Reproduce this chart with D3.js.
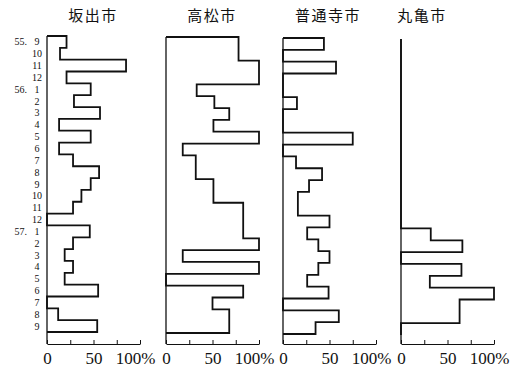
<!DOCTYPE html>
<html>
<head>
<meta charset="utf-8">
<script src="https://cdn.jsdelivr.net/npm/d3@7"></script>
<style>
  html, body { margin: 0; padding: 0; background: #fff; }
  svg { display: block; }
</style>
</head>
<body>
<svg id="chart" width="518" height="368"></svg>
<script>
// ---- data ----
const months = ["55.9","55.10","55.11","55.12",
  "56.1","56.2","56.3","56.4","56.5","56.6","56.7","56.8","56.9","56.10","56.11","56.12",
  "57.1","57.2","57.3","57.4","57.5","57.6","57.7","57.8","57.9"];
const monthLabels = ["9","10","11","12","1","2","3","4","5","6","7","8","9","10","11","12","1","2","3","4","5","6","7","8","9"];
const yearLabels = {"55.9":"55.", "56.1":"56.", "57.1":"57."};
const cities = ["坂出市","高松市","普通寺市","丸亀市"];
const sakaide   = [21,14,85,21,47,29,57,13,47,13,28,56,47,37,28,0,46,28,19,28,19,55,0,12,54];
const takamatsu = [78,78,100,100,33,52,68,51,100,18,32,32,51,51,83,83,83,100,18,100,0,83,50,68,68];
const zentsuji  = [44,0,57,0,0,15,0,0,75,0,14,42,28,16,16,50,26,38,50,38,26,49,0,60,35];
const marugame  = [0,0,0,0,0,0,0,0,0,0,0,0,0,0,0,0,32,66,0,65,31,100,63,63,0];
const series = [sakaide, takamatsu, zentsuji, marugame];
const tickValues = [0,25,50,75,100];
const tickLabels = {0:"0", 50:"50", 100:"100%"};

// ---- layout ----
const panelLeft = [47, 166, 283, 401];
const panelWidth = 93;
const panelDy = [0, 1, 2, 3];
const titleX = [93, 212, 328, 422];
const axisY = 344;
const top0 = 36, bottom0 = 332;
const ink = "#111";

const svg = d3.select("#chart");

// left month labels (use panel 1 band scale)
const yMain = d3.scaleBand().domain(months).range([top0, bottom0]).padding(0);
const lab = svg.append("g")
  .attr("font-family", "'Liberation Serif','DejaVu Serif',serif")
  .attr("font-size", 10).attr("fill", ink);
lab.selectAll("text.m").data(months).join("text")
  .attr("class","m")
  .attr("x", 37)
  .attr("y", d => yMain(d) + yMain.bandwidth()/2)
  .attr("dy", "0.35em")
  .attr("text-anchor", "middle")
  .text((d,i) => monthLabels[i]);
lab.selectAll("text.yr").data(months.filter(m => yearLabels[m])).join("text")
  .attr("class","yr")
  .attr("x", 27)
  .attr("y", d => yMain(d) + yMain.bandwidth()/2)
  .attr("dy", "0.35em")
  .attr("text-anchor", "end")
  .text(d => yearLabels[d]);

series.forEach((vals, p) => {
  const x = d3.scaleLinear().domain([0, 100]).range([panelLeft[p], panelLeft[p] + panelWidth]);
  const y = d3.scaleBand().domain(months).range([top0 + panelDy[p], bottom0 + panelDy[p]]).padding(0);
  const g = svg.append("g");

  // title
  g.append("text")
    .attr("x", titleX[p]).attr("y", 21)
    .attr("text-anchor", "middle")
    .attr("font-family", "'Noto Sans CJK JP','Noto Sans CJK SC',sans-serif")
    .attr("font-size", 15)
    .attr("letter-spacing", 1.5)
    .attr("fill", ink)
    .text(cities[p]);

  // vertical axis line
  g.append("line")
    .attr("x1", x(0)).attr("x2", x(0))
    .attr("y1", y(months[0])).attr("y2", axisY)
    .attr("stroke", ink).attr("stroke-width", 1.3);

  // bottom axis
  const ax = d3.axisBottom(x)
    .tickValues(tickValues)
    .tickSizeInner(-4)
    .tickSizeOuter(0)
    .tickPadding(8)
    .tickFormat(d => tickLabels[d] || "");
  const ag = g.append("g").attr("transform", `translate(0,${axisY})`).call(ax);
  ag.attr("font-family", "'Liberation Serif','DejaVu Serif',serif").attr("font-size", 17);
  ag.select(".domain").attr("stroke", ink).attr("stroke-width", 1.2);
  ag.selectAll(".tick line").attr("stroke", ink).attr("stroke-width", 1);
  ag.selectAll(".tick text").attr("fill", ink)
    .attr("dx", d => d === 100 ? -5 : 0);

  // step outline
  const path = d3.path();
  path.moveTo(x(0), y(months[0]));
  vals.forEach((v, i) => {
    const y0 = y(months[i]);
    path.lineTo(x(v), y0);
    path.lineTo(x(v), y0 + y.bandwidth());
  });
  path.lineTo(x(0), y(months[months.length-1]) + y.bandwidth());
  g.append("path")
    .attr("d", path.toString())
    .attr("fill", "none")
    .attr("stroke", ink)
    .attr("stroke-width", 1.8)
    .attr("stroke-linejoin", "miter");
});
</script>
</body>
</html>
